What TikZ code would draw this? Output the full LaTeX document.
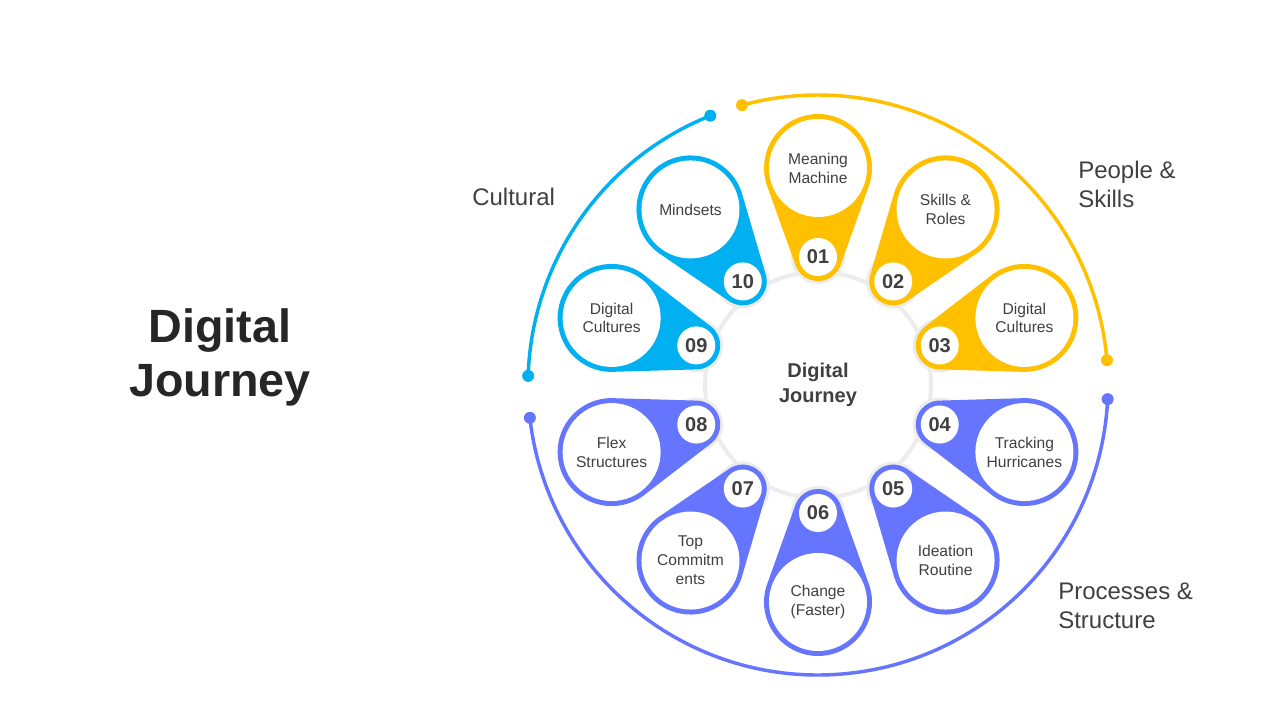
\documentclass[tikz,border=0pt]{standalone}
\usepackage{fontspec}
\setmainfont{Liberation Sans}
\usetikzlibrary{calc}

\definecolor{jyellow}{RGB}{255,192,0}
\definecolor{jblue}{RGB}{0,176,240}
\definecolor{jpurple}{RGB}{102,117,254}
\definecolor{jtext}{RGB}{64,64,64}
\definecolor{jtitle}{RGB}{38,38,38}
\definecolor{jhalo}{RGB}{236,236,236}

\tikzset{
  petaltext/.style={circle, fill=white, minimum size=73.5pt, inner sep=0pt, align=center,
    font=\fontsize{11.7}{14.2}\selectfont, text=jtext},
  numdisc/.style={circle, fill=white, minimum size=28.5pt, inner sep=0pt,
    font=\fontsize{15}{18}\selectfont\bfseries, text=jtext},
  sidelabel/.style={align=left, inner sep=0pt, font=\fontsize{18}{21.8}\selectfont, text=jtext},
  ringline/.style={line width=2.6pt}
}

\begin{document}
\begin{tikzpicture}[x=0.75pt,y=0.75pt]
\useasboundingbox (0,0) rectangle (1280,720);

% title on the left
\node[align=center, font=\fontsize{35}{41}\selectfont\bfseries, text=jtitle] (title) at (220,362.5) {Digital\\Journey};

% hub
\node[circle, fill=white, draw=jhalo, line width=3pt, minimum size=169.5pt, align=center,
  font=\fontsize{15}{19}\selectfont\bfseries, text=jtext] (hub) at (818,335) {Digital\\Journey};

% outer rings
\draw[jyellow, ringline] ($(hub)+(105.2:290)$) arc[start angle=105.2, end angle=4.9, radius=290];
\fill[jyellow] ($(hub)+(105.2:290)$) circle[radius=6];
\fill[jyellow] ($(hub)+(4.9:290)$) circle[radius=6];
\draw[jblue, ringline] ($(hub)+(111.8:290)$) arc[start angle=111.8, end angle=178.2, radius=290];
\fill[jblue] ($(hub)+(111.8:290)$) circle[radius=6];
\fill[jblue] ($(hub)+(178.2:290)$) circle[radius=6];
\draw[jpurple, ringline] ($(hub)+(186.5:290)$) arc[start angle=186.5, end angle=357.2, radius=290];
\fill[jpurple] ($(hub)+(186.5:290)$) circle[radius=6];
\fill[jpurple] ($(hub)+(357.2:290)$) circle[radius=6];

% ring labels
\node[sidelabel, anchor=west] (cultural) at (472,523) {Cultural};
\node[sidelabel, anchor=west] (people) at (1078,535.5) {People \&\\Skills};
\node[sidelabel, anchor=west] (process) at (1058,114.5) {Processes \&\\Structure};

% petals
\foreach \n/\ang/\col/\txt in {
  01/90/jyellow/{Meaning\\Machine},
  02/54/jyellow/{Skills \&\\Roles},
  03/18/jyellow/{Digital\\Cultures},
  04/-18/jpurple/{Tracking\\Hurricanes},
  05/-54/jpurple/{Ideation\\Routine},
  06/-90/jpurple/{Change\\(Faster)},
  07/-126/jpurple/{Top\\Commitm\\ents},
  08/-162/jpurple/{Flex\\Structures},
  09/162/jblue/{Digital\\Cultures},
  10/126/jblue/{Mindsets}}{
  \coordinate (b\n) at ($(hub)+(\ang:217)$);
  \coordinate (t\n) at ($(hub)+(\ang:128)$);
  \fill[jhalo] (t\n) circle[radius=27];
  \fill[\col] ($(b\n)+(\ang+247:54)$) arc[start angle=\ang+247, end angle=\ang+473, radius=54]
    -- ($(t\n)+(\ang+113:24)$) arc[start angle=\ang+113, end angle=\ang+247, radius=24] -- cycle;
  \node[petaltext] (petal\n) at (b\n) {\txt};
  \node[numdisc] (num\n) at (t\n) {\n};
}
\end{tikzpicture}
\end{document}
